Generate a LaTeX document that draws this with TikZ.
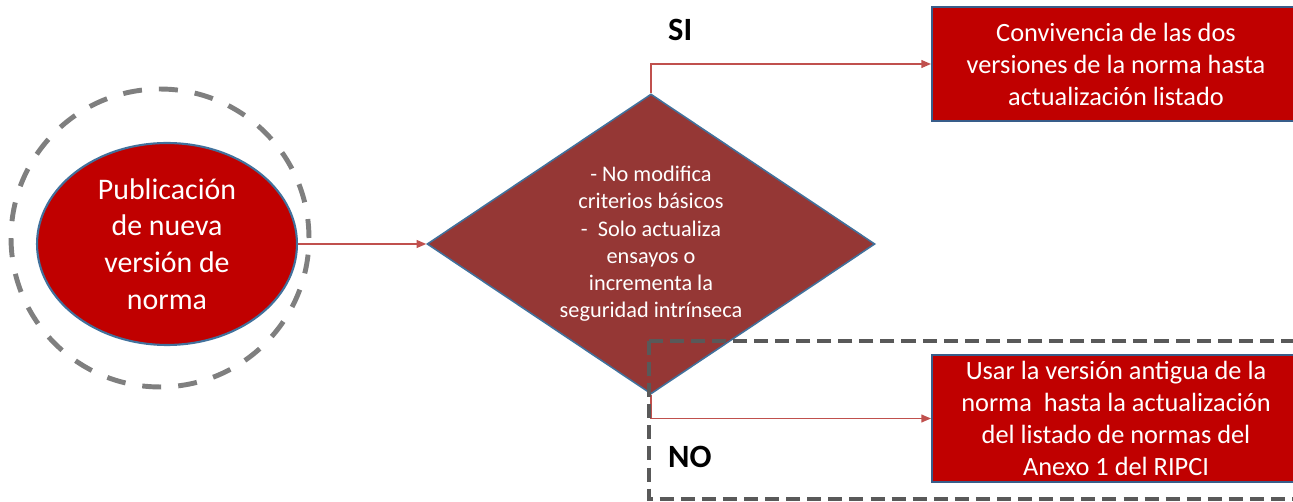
\documentclass[tikz,border=0pt]{standalone}
\usepackage{fontspec}
\setmainfont{Carlito}
\usetikzlibrary{shapes.geometric,arrows.meta}
\definecolor{boxred}{HTML}{C00000}
\definecolor{diamondred}{HTML}{953735}
\definecolor{edgeblue}{HTML}{41719C}
\definecolor{boxblue}{HTML}{385D8A}
\definecolor{linered}{HTML}{C0504D}
\definecolor{dashgray}{HTML}{7F7F7F}
\definecolor{framegray}{HTML}{595959}
\begin{document}
\begin{tikzpicture}[x=0.02cm, y=-0.02cm]
    % Define styles
    \tikzset{
        startnode/.style={ellipse, draw=edgeblue, line width=1.2pt, fill=boxred, text=white, minimum width=5.2cm, minimum height=4.04cm, inner sep=0pt, align=center, font=\fontsize{17}{20.9}\selectfont},
        decision/.style={diamond, draw=edgeblue, line width=0.9pt, fill=diamondred, text=white, minimum width=8.96cm, minimum height=6cm, inner sep=0pt, aspect=1.49, align=center, font=\fontsize{12.7}{15.5}\selectfont},
        outcome/.style={rectangle, draw=boxblue, line width=1.2pt, fill=boxred, text=white, minimum width=7.36cm, align=center, font=\fontsize{15}{18.2}\selectfont},
        halo/.style={circle, draw=dashgray, line width=2.8pt, dash pattern=on 10.8pt off 9.7pt, minimum size=5.96cm},
        flow/.style={->, >={Triangle[length=5.5pt,width=4.5pt]}, draw=linered, line width=0.8pt},
        answer/.style={font=\fontsize{18.5}{22}\selectfont\bfseries, anchor=west}
    }
    \clip (0,0) rectangle (1293,502);

    % Start
    \node[halo] (ring) at (160,238) {};
    \node[startnode] (pub) at (167,244) {Publicación\\de nueva\\versión de\\norma};

    % Decision
    \node[decision] (cond) at (651,244) {- No modifica\\criterios básicos\\-\ \ Solo actualiza\\ensayos o\\incrementa la\\seguridad intrínseca};

    % Outcomes
    \node[outcome, minimum height=2.28cm] (si) at (1116,64) {Convivencia de las dos\\versiones de la norma hasta\\actualización listado};
    \node[outcome, minimum height=2.54cm] (no) at (1116,418.5) {Usar la versión antigua de la\\norma\ \ hasta la actualización\\del listado de normas del\\Anexo 1 del RIPCI};

    % Connectors
    \draw[flow] (pub) -- (cond);
    \draw[flow] (cond.north) |- (si.west);
    \draw[flow] (cond.south) |- (no.west);

    % Answers
    \node[answer] (silabel) at (662,30) {SI};
    \node[answer] (nolabel) at (662,457) {NO};

    % Frame round the NO branch
    \draw[framegray, line width=2.3pt, dash pattern=on 8pt off 4pt] (649,341) rectangle (1320,499);
\end{tikzpicture}
\end{document}
